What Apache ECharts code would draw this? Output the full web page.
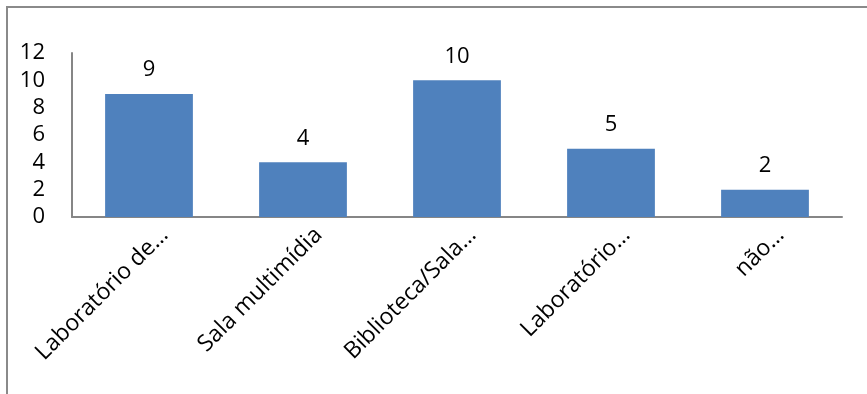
<!DOCTYPE html>
<html>
<head>
<meta charset="utf-8">
<style>
html, body { margin: 0; padding: 0; background: #fff; overflow: hidden; }
#frame {
  position: absolute; left: 6px; top: 6px; width: 900px; height: 420px;
  border-left: 2px solid #8a8a8a; border-top: 2px solid #8a8a8a;
}
#main { position: absolute; left: 0; top: 0; width: 867px; height: 394px; }
</style>
<script src="https://cdn.jsdelivr.net/npm/echarts@6/dist/echarts.min.js"></script>
</head>
<body>
<div id="frame"></div>
<div id="main"></div>
<script>
// categorias e valores
const categories = ['Laboratório de…', 'Sala multimídia', 'Biblioteca/Sala…', 'Laboratório…', 'não…']
const values = [9, 4, 10, 5, 2]
const yMin = 0, yMax = 12, yStep = 2

const chart = echarts.init(document.getElementById('main'))
const font = '"Open Sans", sans-serif'

chart.setOption({
  animation: false,
  grid: { left: 72, right: 25, top: 53, bottom: 177 },
  xAxis: {
    type: 'category',
    data: categories,
    axisLine: { lineStyle: { color: '#868686', width: 2 } },
    axisTick: { show: false },
    axisLabel: {
      interval: 0,
      rotate: 45,
      margin: 30,
      padding: [0, -22, 0, 0],
      color: '#000',
      fontSize: 23,
      fontFamily: font
    }
  },
  yAxis: {
    type: 'value',
    min: yMin, max: yMax, interval: yStep,
    axisLine: { show: true, lineStyle: { color: '#868686', width: 2 } },
    axisTick: { show: false },
    splitLine: { show: false },
    axisLabel: { margin: 27, color: '#000', fontSize: 22, fontFamily: font }
  },
  series: [{
    type: 'bar',
    data: values,
    barWidth: '57%',
    itemStyle: { color: '#4F81BD' },
    label: {
      show: true,
      position: 'top',
      distance: 13,
      color: '#000',
      fontSize: 22,
      fontFamily: font
    }
  }]
})
</script>
</body>
</html>
